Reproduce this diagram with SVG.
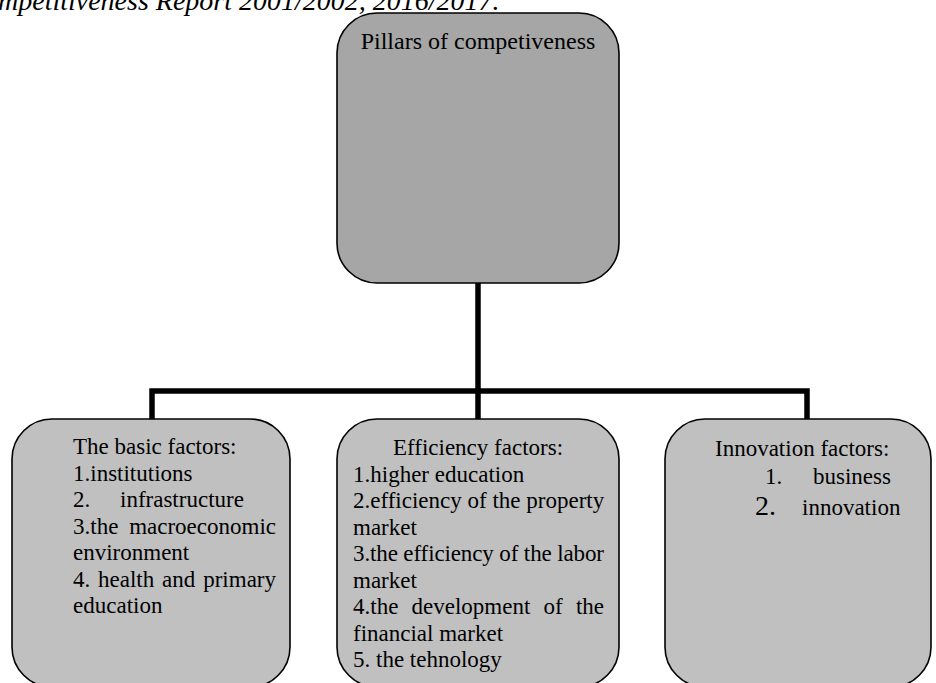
<svg xmlns="http://www.w3.org/2000/svg" width="936" height="683" viewBox="0 0 936 683">
<style>
.t{font-family:"Liberation Serif","Times New Roman",serif;font-size:23px;fill:#000}
.cap{font-family:"Liberation Serif","Times New Roman",serif;font-size:28px;font-style:italic;fill:#000}
.top{fill:#a6a6a6;stroke:#000;stroke-width:1.6}
.box{fill:#c0c0c0;stroke:#000;stroke-width:1.6}
.con{fill:none;stroke:#000;stroke-width:5.5;stroke-linejoin:miter}
</style>
<rect width="936" height="683" fill="#fff"/>
<text class="cap" x="-2" y="9.5">mpetitiveness Report 2001/2002, 2016/2017.</text>
<g id="connectors">
<path class="con" d="M478,283 V419"/>
<path class="con" d="M152,419 V391 H807 V419"/>
</g>
<g id="pillars">
<rect class="top" x="337" y="13" width="282" height="270" rx="40" ry="40"/>
<text class="t" x="478" y="49" text-anchor="middle" style="font-size:24px">Pillars of competiveness</text>
</g>
<g id="basic">
<rect class="box" x="12" y="419" width="278" height="268" rx="40" ry="40"/>
<text class="t" x="73" y="454">The basic factors:</text>
<text class="t" x="73" y="480.5">1.institutions</text>
<text class="t" y="507"><tspan x="73">2.</tspan><tspan x="120">infrastructure</tspan></text>
<text class="t" y="533.5"><tspan x="73">3.the</tspan><tspan x="276" text-anchor="end">macroeconomic</tspan></text>
<text class="t" x="73" y="560">environment</text>
<text class="t" y="586.5"><tspan x="73">4.</tspan><tspan x="98">health</tspan><tspan x="162">and</tspan><tspan x="276" text-anchor="end">primary</tspan></text>
<text class="t" x="73" y="613">education</text>
</g>
<g id="efficiency">
<rect class="box" x="337" y="419" width="282" height="268" rx="40" ry="40"/>
<text class="t" x="478" y="455" text-anchor="middle">Efficiency factors:</text>
<text class="t" x="353" y="481.5">1.higher education</text>
<text class="t" x="353" y="508">2.efficiency of the property</text>
<text class="t" x="353" y="534.5">market</text>
<text class="t" x="353" y="561" textLength="251" lengthAdjust="spacing">3.the efficiency of the labor</text>
<text class="t" x="353" y="587.5">market</text>
<text class="t" y="614"><tspan x="353">4.the</tspan><tspan x="411.5">development</tspan><tspan x="543.5">of</tspan><tspan x="604" text-anchor="end">the</tspan></text>
<text class="t" x="353" y="640.5">financial market</text>
<text class="t" x="353" y="667">5. the tehnology</text>
</g>
<g id="innovation">
<rect class="box" x="665" y="419" width="266" height="268" rx="40" ry="40"/>
<text class="t" x="715" y="456">Innovation factors:</text>
<text class="t" y="484"><tspan x="765">1.</tspan><tspan x="813">business</tspan></text>
<text class="t" y="515"><tspan x="755" style="font-size:28px">2.</tspan><tspan x="802">innovation</tspan></text>
</g>
</svg>
